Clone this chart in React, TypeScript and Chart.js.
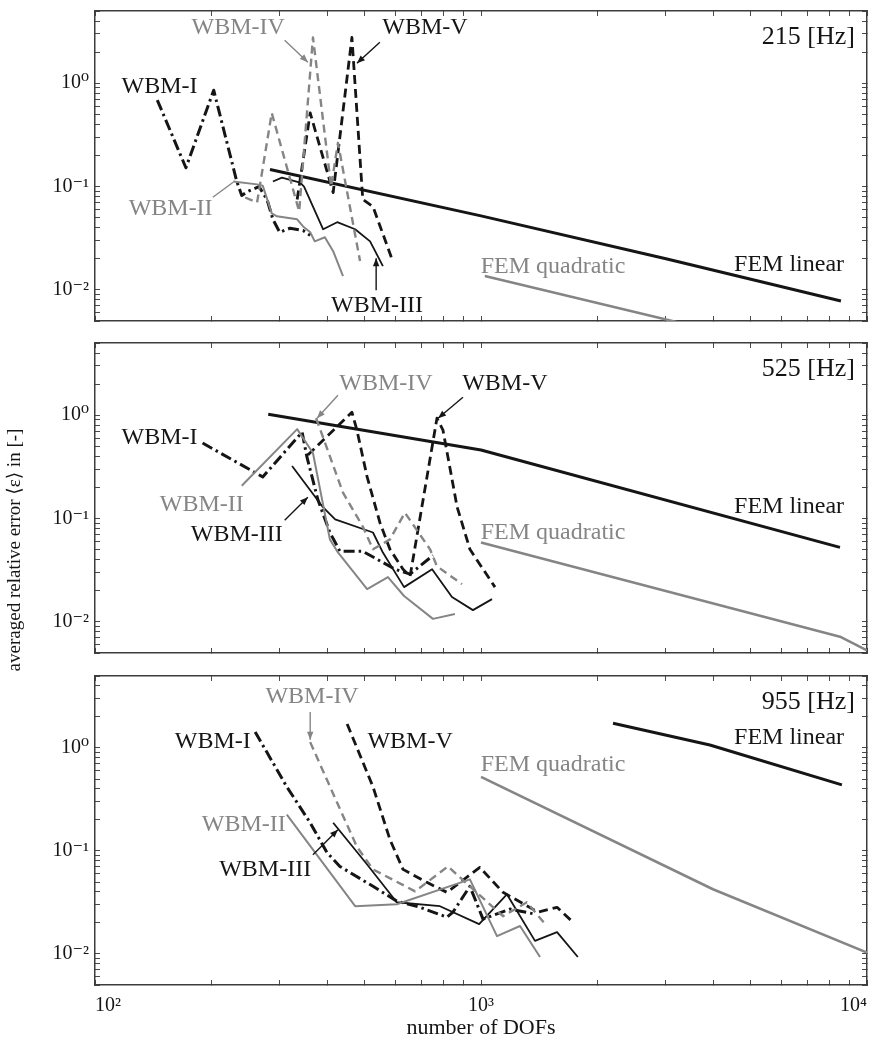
import React, { useEffect, useRef } from 'react';
import { Chart, registerables } from 'chart.js';

Chart.register(...registerables);

const W = 870;
const H = 1043;
const BLACK = '#151515';
const GRAY = '#858585';
const FRAME = '#3c3c3c';
const SERIF = "'Liberation Serif', 'DejaVu Serif', 'Times New Roman', serif";

// ---------- axes ----------
const X_MIN = 100;
const X_MAX = 10000;
const Y_MIN = 0.005;
const Y_MAX = 5;
const xTickValues = [100, 200, 300, 400, 500, 600, 700, 800, 900, 1000, 2000, 3000, 4000, 5000, 6000, 7000, 8000, 9000, 10000];
const xTickDecades = [100, 1000, 10000];
const xTickLabels = ['10²', '10³', '10⁴'];
const yTickValues = [0.005, 0.006, 0.007, 0.008, 0.009, 0.01, 0.02, 0.03, 0.04, 0.05, 0.06, 0.07, 0.08, 0.09, 0.1, 0.2, 0.3, 0.4, 0.5, 0.6, 0.7, 0.8, 0.9, 1, 2, 3, 4, 5];
const yTickDecades = [0.01, 0.1, 1];
const yTickLabels = ['10⁻²', '10⁻¹', '10⁰'];
const X_TITLE = 'number of DOFs';
const Y_TITLE = 'averaged relative error ⟨ε⟩ in [-]';

// ---------- 215 Hz ----------
const f215_wbm1_x = [145, 172, 203, 233, 240, 248, 266, 279, 289, 301, 320, 346, 361];
const f215_wbm1_y = [0.687, 0.152, 0.856, 0.112, 0.0819, 0.0894, 0.1, 0.075, 0.0482, 0.0361, 0.0395, 0.0376, 0.0337];
const f215_wbm2_x = [228, 263, 272, 287, 296, 334, 346, 361, 371, 394, 414, 439];
const f215_wbm2_y = [0.112, 0.105, 0.102, 0.055, 0.0516, 0.0482, 0.0411, 0.0361, 0.0295, 0.0323, 0.0237, 0.0136];
const f215_wbm3_x = [289, 305, 340, 348, 390, 424, 472, 516, 557];
const f215_wbm3_y = [0.112, 0.122, 0.109, 0.1, 0.0386, 0.0452, 0.0386, 0.0295, 0.017];
const f215_wbm4_x = [245, 263, 287, 338, 367, 409, 426, 486];
const f215_wbm4_y = [0.0784, 0.0701, 0.515, 0.0575, 2.77, 0.1, 0.265, 0.019];
const f215_wbm5_x = [334, 361, 414, 463, 494, 525, 588];
const f215_wbm5_y = [0.075, 0.515, 0.0875, 2.77, 0.075, 0.064, 0.0199];
const f215_femLin_x = [284, 1000, 3033, 8560];
const f215_femLin_y = [0.146, 0.052, 0.0199, 0.0078];
const f215_femQuad_x = [1023, 2961, 9000];
const f215_femQuad_y = [0.0136, 0.00526, 0.0019];

// ---------- 525 Hz ----------
const f525_wbm1_x = [190, 272, 344, 354, 378, 406, 431, 494, 599, 655, 751];
const f525_wbm1_y = [0.538, 0.253, 0.686, 0.395, 0.152, 0.0733, 0.0482, 0.0482, 0.0323, 0.029, 0.044];
const f525_wbm2_x = [240, 334, 367, 406, 424, 507, 574, 632, 751, 856];
const f525_wbm2_y = [0.208, 0.733, 0.431, 0.0629, 0.0482, 0.0208, 0.0271, 0.0178, 0.0107, 0.0119];
const f525_wbm3_x = [324, 390, 419, 525, 557, 632, 747, 841, 953, 1068];
const f525_wbm3_y = [0.323, 0.128, 0.098, 0.0733, 0.0469, 0.0217, 0.0323, 0.0174, 0.013, 0.0166];
const f525_wbm4_x = [374, 439, 494, 525, 581, 635, 738, 769, 893];
const f525_wbm4_y = [0.936, 0.178, 0.0838, 0.0504, 0.0629, 0.114, 0.0504, 0.0345, 0.0232];
const f525_wbm5_x = [356, 463, 477, 507, 547, 581, 628, 655, 769, 797, 867, 936, 1087];
const f525_wbm5_y = [0.412, 1.07, 0.718, 0.253, 0.0916, 0.0504, 0.0323, 0.0276, 0.936, 0.718, 0.13, 0.0504, 0.0217];
const f525_femLin_x = [281, 1000, 8511];
const f525_femLin_y = [1.02, 0.461, 0.0526];
const f525_femQuad_x = [1000, 8511, 10000];
const f525_femQuad_y = [0.0588, 0.0072, 0.0053];

// ---------- 955 Hz ----------
const f955_wbm1_x = [260, 314, 361, 399, 431, 525, 605, 695, 816, 846, 936, 1012, 1188, 1380];
const f955_wbm1_y = [1.43, 0.42, 0.188, 0.0967, 0.0708, 0.0454, 0.0326, 0.0284, 0.0228, 0.0255, 0.0454, 0.0218, 0.0273, 0.0244];
const f955_wbm2_x = [314, 472, 605, 936, 1100, 1262, 1422];
const f955_wbm2_y = [0.225, 0.0291, 0.0304, 0.053, 0.0149, 0.0187, 0.00935];
const f955_wbm3_x = [414, 507, 605, 783, 989, 1167, 1380, 1574, 1782];
const f955_wbm3_y = [0.188, 0.074, 0.0318, 0.0291, 0.0195, 0.038, 0.0134, 0.0163, 0.00935];
const f955_wbm4_x = [361, 424, 477, 525, 675, 821, 1140, 1315, 1466];
const f955_wbm4_y = [1.14, 0.294, 0.11, 0.0663, 0.0406, 0.0708, 0.0233, 0.0318, 0.0195];
const f955_wbm5_x = [450, 525, 581, 628, 724, 816, 993, 1140, 1406, 1574, 1730];
const f955_wbm5_y = [1.71, 0.42, 0.129, 0.0663, 0.0496, 0.0397, 0.0693, 0.0397, 0.0255, 0.0284, 0.0204];
const f955_femLin_x = [2198, 3917, 8610];
const f955_femLin_y = [1.74, 1.07, 0.439];
const f955_femQuad_x = [1000, 3990, 10000];
const f955_femQuad_y = [0.525, 0.0425, 0.0103];

// ---------- styles ----------
type Style = { color: string; width: number; dash: number[] };
const STYLE: Record<string, Style> = {
  'WBM-I': { color: BLACK, width: 3, dash: [11, 4, 2.5, 4] },
  'WBM-II': { color: GRAY, width: 2, dash: [] },
  'WBM-III': { color: BLACK, width: 1.8, dash: [] },
  'WBM-IV': { color: GRAY, width: 2.4, dash: [8, 5] },
  'WBM-V': { color: BLACK, width: 2.8, dash: [9, 5] },
  'FEM linear': { color: BLACK, width: 3, dash: [] },
  'FEM quadratic': { color: GRAY, width: 2.6, dash: [] },
};

type Series = { name: string; xs: number[]; ys: number[] };
type Label = { text: string; x: number; y: number; color: string };
type Arrow = { x1: number; y1: number; x2: number; y2: number; color: string; head: boolean };
type Panel = {
  freq: string;
  top: number;
  bottom: number;
  series: Series[];
  labels: Label[];
  arrows: Arrow[];
  showX: boolean;
  showYTitle: boolean;
};

const panels: Panel[] = [
  {
    freq: '215 [Hz]',
    top: 11,
    bottom: 321,
    showX: false,
    showYTitle: false,
    series: [
      { name: 'FEM quadratic', xs: f215_femQuad_x, ys: f215_femQuad_y },
      { name: 'WBM-II', xs: f215_wbm2_x, ys: f215_wbm2_y },
      { name: 'WBM-IV', xs: f215_wbm4_x, ys: f215_wbm4_y },
      { name: 'WBM-III', xs: f215_wbm3_x, ys: f215_wbm3_y },
      { name: 'WBM-I', xs: f215_wbm1_x, ys: f215_wbm1_y },
      { name: 'WBM-V', xs: f215_wbm5_x, ys: f215_wbm5_y },
      { name: 'FEM linear', xs: f215_femLin_x, ys: f215_femLin_y },
    ],
    labels: [
      { text: 'WBM-IV', x: 235, y: 3.41, color: GRAY },
      { text: 'WBM-V', x: 716, y: 3.41, color: BLACK },
      { text: 'WBM-I', x: 147, y: 0.935, color: BLACK },
      { text: 'WBM-II', x: 157, y: 0.0616, color: GRAY },
      { text: 'WBM-III', x: 538, y: 0.0071, color: BLACK },
      { text: 'FEM linear', x: 6281, y: 0.0177, color: BLACK },
      { text: 'FEM quadratic', x: 1537, y: 0.0169, color: GRAY },
    ],
    arrows: [
      { x1: 310, y1: 2.61, x2: 356, y2: 1.6, color: GRAY, head: true },
      { x1: 547, y1: 2.49, x2: 477, y2: 1.56, color: BLACK, head: true },
      { x1: 202, y1: 0.0788, x2: 228, y2: 0.11, color: GRAY, head: false },
      { x1: 535, y1: 0.0099, x2: 535, y2: 0.0202, color: BLACK, head: true },
    ],
  },
  {
    freq: '525 [Hz]',
    top: 343,
    bottom: 653,
    showX: false,
    showYTitle: true,
    series: [
      { name: 'FEM quadratic', xs: f525_femQuad_x, ys: f525_femQuad_y },
      { name: 'WBM-II', xs: f525_wbm2_x, ys: f525_wbm2_y },
      { name: 'WBM-IV', xs: f525_wbm4_x, ys: f525_wbm4_y },
      { name: 'WBM-III', xs: f525_wbm3_x, ys: f525_wbm3_y },
      { name: 'WBM-I', xs: f525_wbm1_x, ys: f525_wbm1_y },
      { name: 'WBM-V', xs: f525_wbm5_x, ys: f525_wbm5_y },
      { name: 'FEM linear', xs: f525_femLin_x, ys: f525_femLin_y },
    ],
    labels: [
      { text: 'WBM-IV', x: 567, y: 2.04, color: GRAY },
      { text: 'WBM-V', x: 1153, y: 2.04, color: BLACK },
      { text: 'WBM-I', x: 147, y: 0.612, color: BLACK },
      { text: 'WBM-II', x: 189, y: 0.1375, color: GRAY },
      { text: 'WBM-III', x: 233, y: 0.0705, color: BLACK },
      { text: 'FEM linear', x: 6281, y: 0.129, color: BLACK },
      { text: 'FEM quadratic', x: 1537, y: 0.0737, color: GRAY },
    ],
    arrows: [
      { x1: 426, y1: 1.56, x2: 376, y2: 0.935, color: GRAY, head: true },
      { x1: 898, y1: 1.49, x2: 774, y2: 0.935, color: BLACK, head: true },
      { x1: 310, y1: 0.0964, x2: 356, y2: 0.161, color: BLACK, head: true },
    ],
  },
  {
    freq: '955 [Hz]',
    top: 676,
    bottom: 985,
    showX: true,
    showYTitle: false,
    series: [
      { name: 'FEM quadratic', xs: f955_femQuad_x, ys: f955_femQuad_y },
      { name: 'WBM-II', xs: f955_wbm2_x, ys: f955_wbm2_y },
      { name: 'WBM-IV', xs: f955_wbm4_x, ys: f955_wbm4_y },
      { name: 'WBM-III', xs: f955_wbm3_x, ys: f955_wbm3_y },
      { name: 'WBM-I', xs: f955_wbm1_x, ys: f955_wbm1_y },
      { name: 'WBM-V', xs: f955_wbm5_x, ys: f955_wbm5_y },
      { name: 'FEM linear', xs: f955_femLin_x, ys: f955_femLin_y },
    ],
    labels: [
      { text: 'WBM-IV', x: 365, y: 3.12, color: GRAY },
      { text: 'WBM-I', x: 202, y: 1.14, color: BLACK },
      { text: 'WBM-V', x: 655, y: 1.14, color: BLACK },
      { text: 'WBM-II', x: 243, y: 0.18, color: GRAY },
      { text: 'WBM-III', x: 276, y: 0.0659, color: BLACK },
      { text: 'FEM linear', x: 6281, y: 1.25, color: BLACK },
      { text: 'FEM quadratic', x: 1537, y: 0.684, color: GRAY },
    ],
    arrows: [
      { x1: 361, y1: 2.23, x2: 361, y2: 1.2, color: GRAY, head: true },
      { x1: 367, y1: 0.092, x2: 426, y2: 0.161, color: BLACK, head: true },
    ],
  },
];

const findLabel = (v: number, decades: number[], labels: string[]) => {
  const i = decades.findIndex((d) => Math.abs(d - v) / d < 1e-6);
  return i >= 0 ? labels[i] : '';
};

function makeAnnotPlugin(p: Panel) {
  return {
    id: 'annot',
    afterDatasetsDraw(chart: any) {
      const { ctx, chartArea, scales } = chart;
      const sx = scales.x;
      const sy = scales.y;
      ctx.save();
      ctx.textAlign = 'center';
      ctx.textBaseline = 'middle';
      ctx.font = `24px ${SERIF}`;
      for (const l of p.labels) {
        ctx.fillStyle = l.color;
        ctx.fillText(l.text, sx.getPixelForValue(l.x), sy.getPixelForValue(l.y));
      }
      for (const a of p.arrows) {
        const x1 = sx.getPixelForValue(a.x1);
        const y1 = sy.getPixelForValue(a.y1);
        const x2 = sx.getPixelForValue(a.x2);
        const y2 = sy.getPixelForValue(a.y2);
        ctx.strokeStyle = a.color;
        ctx.fillStyle = a.color;
        ctx.lineWidth = 1.4;
        ctx.setLineDash([]);
        ctx.beginPath();
        ctx.moveTo(x1, y1);
        ctx.lineTo(x2, y2);
        ctx.stroke();
        if (a.head) {
          const ang = Math.atan2(y2 - y1, x2 - x1);
          const len = 8;
          const wid = 3.2;
          ctx.beginPath();
          ctx.moveTo(x2, y2);
          ctx.lineTo(x2 - len * Math.cos(ang) + wid * Math.sin(ang), y2 - len * Math.sin(ang) - wid * Math.cos(ang));
          ctx.lineTo(x2 - len * Math.cos(ang) - wid * Math.sin(ang), y2 - len * Math.sin(ang) + wid * Math.cos(ang));
          ctx.closePath();
          ctx.fill();
        }
      }
      ctx.font = `26px ${SERIF}`;
      ctx.textAlign = 'right';
      ctx.fillStyle = BLACK;
      ctx.fillText(p.freq, chartArea.right - 12, chartArea.top + 26);
      if (p.showYTitle) {
        // shared y-axis title, placed beside the middle panel
        ctx.save();
        ctx.translate(15, chartArea.bottom - 103);
        ctx.rotate(-Math.PI / 2);
        ctx.font = `19px ${SERIF}`;
        ctx.textAlign = 'center';
        ctx.textBaseline = 'middle';
        ctx.fillStyle = BLACK;
        ctx.fillText(Y_TITLE, 0, 0);
        ctx.restore();
      }
      ctx.restore();
    },
  };
}

const zeroPad = (s: any) => {
  s.paddingLeft = 0;
  s.paddingRight = 0;
  s.paddingTop = 0;
  s.paddingBottom = 0;
};

function makeConfig(p: Panel): any {
  const gridOpts = {
    display: true,
    drawOnChartArea: false,
    drawTicks: true,
    tickLength: -5,
    tickColor: '#4a4a4a',
    tickWidth: 1,
  };
  const borderOpts = { display: true, color: FRAME, width: 1.5 };
  const xTicks = (s: any) => {
    s.ticks = xTickValues.map((v) => ({ value: v, major: xTickDecades.includes(v) }));
  };
  const yTicks = (s: any) => {
    s.ticks = yTickValues.map((v) => ({ value: v, major: yTickDecades.includes(v) }));
  };
  return {
    type: 'line',
    data: {
      datasets: p.series.map((s) => ({
        label: s.name,
        data: s.xs.map((x, i) => ({ x, y: s.ys[i] })),
        borderColor: STYLE[s.name].color,
        borderWidth: STYLE[s.name].width,
        borderDash: STYLE[s.name].dash,
        borderCapStyle: 'butt',
        borderJoinStyle: 'round',
        pointRadius: 0,
        fill: false,
        tension: 0,
      })),
    },
    options: {
      responsive: false,
      animation: false,
      devicePixelRatio: 1,
      events: [],
      layout: {
        padding: { top: p.top, bottom: p.showX ? 0 : H - p.bottom, left: 0, right: W - 867 },
      },
      plugins: { legend: { display: false }, tooltip: { enabled: false }, title: { display: false } },
      scales: {
        x: {
          type: 'logarithmic',
          axis: 'x',
          position: 'bottom',
          min: X_MIN,
          max: X_MAX,
          afterBuildTicks: xTicks,
          afterFit: (s: any) => {
            s.height = p.showX ? H - p.bottom : 0;
            zeroPad(s);
          },
          grid: gridOpts,
          border: borderOpts,
          ticks: {
            display: p.showX,
            autoSkip: false,
            maxRotation: 0,
            minRotation: 0,
            align: 'inner',
            padding: 14,
            color: BLACK,
            font: { family: SERIF, size: 20 },
            callback: (v: number) => findLabel(v, xTickDecades, xTickLabels),
          },
          title: {
            display: p.showX,
            text: X_TITLE,
            color: BLACK,
            font: { family: SERIF, size: 22 },
            padding: { top: 0, bottom: 2 },
          },
        },
        x2: {
          type: 'logarithmic',
          axis: 'x',
          position: 'top',
          min: X_MIN,
          max: X_MAX,
          afterBuildTicks: xTicks,
          afterFit: (s: any) => {
            s.height = 0;
            zeroPad(s);
          },
          grid: gridOpts,
          border: borderOpts,
          ticks: { display: false, autoSkip: false },
        },
        y: {
          type: 'logarithmic',
          axis: 'y',
          position: 'left',
          min: Y_MIN,
          max: Y_MAX,
          afterBuildTicks: yTicks,
          afterFit: (s: any) => {
            s.width = 95;
            zeroPad(s);
          },
          grid: gridOpts,
          border: borderOpts,
          ticks: {
            display: true,
            autoSkip: false,
            padding: 11,
            color: BLACK,
            font: { family: SERIF, size: 20 },
            callback: (v: number) => findLabel(v, yTickDecades, yTickLabels),
          },
        },
        y2: {
          type: 'logarithmic',
          axis: 'y',
          position: 'right',
          min: Y_MIN,
          max: Y_MAX,
          afterBuildTicks: yTicks,
          afterFit: (s: any) => {
            s.width = 0;
            zeroPad(s);
          },
          grid: gridOpts,
          border: borderOpts,
          ticks: { display: false, autoSkip: false },
        },
      },
    },
    plugins: [makeAnnotPlugin(p)],
  };
}

function PanelCanvas({ panel }: { panel: Panel }) {
  const ref = useRef<HTMLCanvasElement | null>(null);
  useEffect(() => {
    if (!ref.current) return;
    const chart = new Chart(ref.current, makeConfig(panel));
    return () => chart.destroy();
  }, [panel]);
  return (
    <canvas
      ref={ref}
      width={W}
      height={H}
      style={{ position: 'absolute', left: 0, top: 0, width: W, height: H }}
    />
  );
}

export default function App() {
  return (
    <div style={{ position: 'absolute', left: 0, top: 0, width: W, height: H, background: '#ffffff' }}>
      {panels.map((p) => (
        <PanelCanvas key={p.freq} panel={p} />
      ))}
    </div>
  );
}
